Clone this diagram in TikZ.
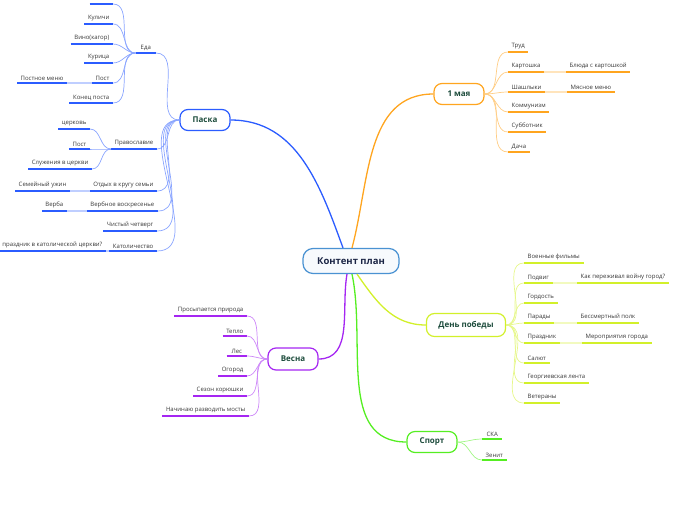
\documentclass[tikz,border=0pt]{standalone}
\usepackage{fontspec}
\setmainfont{Open Sans}
\usepackage{tikz}
\definecolor{centralC}{HTML}{4A92D2}
\definecolor{centralFill}{HTML}{F7FAFD}
\definecolor{centralText}{HTML}{1B2545}
\definecolor{topicText}{HTML}{1D4C3C}
\definecolor{leafText}{HTML}{383838}
\definecolor{paskaC}{HTML}{2B5CFF}
\definecolor{maiC}{HTML}{FFA51F}
\definecolor{pobedaC}{HTML}{D2F02A}
\definecolor{vesnaC}{HTML}{A526F2}
\definecolor{sportC}{HTML}{55EE22}

\begin{document}
\begin{tikzpicture}[x=1pt,y=-1pt,
        leaf/.style={font=\fontsize{6}{7}\selectfont, text=leafText, inner xsep=3.5pt, inner ysep=2.5pt, minimum width=20pt,
                append after command={(\tikzlastnode.south west) edge[draw=#1, line width=1.8pt] (\tikzlastnode.south east)}},
        leafL/.style={leaf=#1, anchor=south east},
        leafR/.style={leaf=#1, anchor=south west},
        topic/.style={draw=#1, line width=1.2pt, rounded corners=8pt, fill=white, text=topicText,
                font=\bfseries\fontsize{8}{9}\selectfont, minimum width=50pt, minimum height=21pt, inner xsep=12pt},
        branch/.style={draw=#1, line width=1.3pt},
        twig/.style={draw=#1!55, line width=0.7pt},
        bridge/.style={draw=#1!30, line width=1.8pt}]
        \useasboundingbox (0,0) rectangle (696,520);

        % centre and topics
        \node[draw=centralC, line width=1.2pt, rounded corners=10pt, fill=centralFill, text=centralText,
                font=\bfseries\fontsize{9.5}{11}\selectfont, minimum width=96pt, minimum height=25pt] (c) at (351,261) {Контент план};
        \node[topic=paskaC] (paska) at (205,120) {Паска};
        \node[topic=maiC] (mai) at (459,94) {1 мая};
        \node[topic=pobedaC, minimum height=23pt] (pobeda) at (466,325) {День победы};
        \node[topic=vesnaC, minimum height=22pt] (vesna) at (293,359) {Весна};
        \node[topic=sportC] (sport) at (432,442) {Спорт};

        \draw[branch=paskaC] ([xshift=-8pt]c.north) to[out=110,in=0] (paska.east);
        \draw[branch=maiC] ([xshift=1pt]c.north) to[out=75,in=180] (mai.west);
        \draw[branch=vesnaC] ([xshift=-4pt]c.south) to[out=-100,in=0] (vesna.east);
        \draw[branch=sportC] ([xshift=1pt]c.south) to[out=-78,in=180] (sport.west);
        \draw[branch=pobedaC] ([xshift=6pt]c.south) to[out=-55,in=180] (pobeda.west);

        % Паска
        \node[leafL=paskaC] (eda) at (156,53) {Еда};
        \node[leafL=paskaC, minimum width=23pt] (e0) at (113,4) {};
        \node[leafL=paskaC] (kulichi) at (113,24) {Куличи};
        \node[leafL=paskaC] (vino) at (113,44) {Вино(кагор)};
        \node[leafL=paskaC] (kurica) at (113,63) {Курица};
        \node[leafL=paskaC] (post) at (113,83) {Пост};
        \node[leafL=paskaC] (postmenu) at (67,83) {Постное меню};
        \node[leafL=paskaC] (konec) at (113,103) {Конец поста};
        \node[leafL=paskaC] (prav) at (157,149) {Православие};
        \node[leafL=paskaC] (cerkov) at (90,129) {церковь};
        \node[leafL=paskaC] (post2) at (90,149) {Пост};
        \node[leafL=paskaC] (sluzh) at (92,169) {Служения в церкви};
        \node[leafL=paskaC] (otdyh) at (157,191) {Отдых в кругу семьи};
        \node[leafL=paskaC] (uzhin) at (70,191) {Семейный ужин};
        \node[leafL=paskaC] (verbvos) at (158,211) {Вербное воскресенье};
        \node[leafL=paskaC] (verba) at (67,211) {Верба};
        \node[leafL=paskaC] (chist) at (157,231) {Чистый четверг};
        \node[leafL=paskaC] (katol) at (157,251) {Католичество};
        \node[leafL=paskaC] (katprazd) at (106,251) {праздник в католической церкви?};

        \draw[twig=paskaC] (paska.west) to[out=180,in=0] (eda.south east);
        \draw[twig=paskaC] (paska.west) to[out=180,in=0] (prav.south east);
        \draw[twig=paskaC] (paska.west) to[out=180,in=0] (otdyh.south east);
        \draw[twig=paskaC] (paska.west) to[out=180,in=0] (verbvos.south east);
        \draw[twig=paskaC] (paska.west) to[out=180,in=0] (chist.south east);
        \draw[twig=paskaC] (paska.west) to[out=180,in=0] (katol.south east);
        \draw[twig=paskaC] (eda.south west) to[out=180,in=0] (e0.south east);
        \draw[twig=paskaC] (eda.south west) to[out=180,in=0] (kulichi.south east);
        \draw[twig=paskaC] (eda.south west) to[out=180,in=0] (vino.south east);
        \draw[twig=paskaC] (eda.south west) to[out=180,in=0] (kurica.south east);
        \draw[twig=paskaC] (eda.south west) to[out=180,in=0] (post.south east);
        \draw[twig=paskaC] (eda.south west) to[out=180,in=0] (konec.south east);
        \draw[twig=paskaC] (prav.south west) to[out=180,in=0] (cerkov.south east);
        \draw[twig=paskaC] (prav.south west) to[out=180,in=0] (post2.south east);
        \draw[twig=paskaC] (prav.south west) to[out=180,in=0] (sluzh.south east);
        \draw[bridge=paskaC] (post.south west) -- (postmenu.south east);
        \draw[bridge=paskaC] (otdyh.south west) -- (uzhin.south east);
        \draw[bridge=paskaC] (verbvos.south west) -- (verba.south east);
        \draw[bridge=paskaC] (katol.south west) -- (katprazd.south east);

        % 1 мая
        \node[leafR=maiC] (trud) at (508,52) {Труд};
        \node[leafR=maiC] (kart) at (508,72) {Картошка};
        \node[leafR=maiC] (bluda) at (566,72) {Блюда с картошкой};
        \node[leafR=maiC] (shash) at (508,92) {Шашлыки};
        \node[leafR=maiC] (myaso) at (567,92) {Мясное меню};
        \node[leafR=maiC] (komm) at (508,112) {Коммунизм};
        \node[leafR=maiC] (subb) at (508,132) {Субботник};
        \node[leafR=maiC] (dacha) at (508,152) {Дача};

        \draw[twig=maiC] (mai.east) to[out=0,in=180] (trud.south west);
        \draw[twig=maiC] (mai.east) to[out=0,in=180] (kart.south west);
        \draw[twig=maiC] (mai.east) to[out=0,in=180] (shash.south west);
        \draw[twig=maiC] (mai.east) to[out=0,in=180] (komm.south west);
        \draw[twig=maiC] (mai.east) to[out=0,in=180] (subb.south west);
        \draw[twig=maiC] (mai.east) to[out=0,in=180] (dacha.south west);
        \draw[bridge=maiC] (kart.south east) -- (bluda.south west);
        \draw[bridge=maiC] (shash.south east) -- (myaso.south west);

        % День победы
        \node[leafR=pobedaC] (voen) at (524,263) {Военные фильмы};
        \node[leafR=pobedaC] (podvig) at (524,283) {Подвиг};
        \node[leafR=pobedaC] (perezh) at (577,283) {Как переживал войну город?};
        \node[leafR=pobedaC] (gord) at (524,303) {Гордость};
        \node[leafR=pobedaC] (parad) at (524,323) {Парады};
        \node[leafR=pobedaC] (polk) at (577,323) {Бессмертный полк};
        \node[leafR=pobedaC] (prazd) at (524,343) {Праздник};
        \node[leafR=pobedaC] (merop) at (582,343) {Мероприятия города};
        \node[leafR=pobedaC] (salut) at (524,363) {Салют};
        \node[leafR=pobedaC] (lenta) at (524,383) {Георгиевская лента};
        \node[leafR=pobedaC] (veter) at (524,403) {Ветераны};

        \draw[twig=pobedaC] (pobeda.east) to[out=0,in=180] (voen.south west);
        \draw[twig=pobedaC] (pobeda.east) to[out=0,in=180] (podvig.south west);
        \draw[twig=pobedaC] (pobeda.east) to[out=0,in=180] (gord.south west);
        \draw[twig=pobedaC] (pobeda.east) to[out=0,in=180] (parad.south west);
        \draw[twig=pobedaC] (pobeda.east) to[out=0,in=180] (prazd.south west);
        \draw[twig=pobedaC] (pobeda.east) to[out=0,in=180] (salut.south west);
        \draw[twig=pobedaC] (pobeda.east) to[out=0,in=180] (lenta.south west);
        \draw[twig=pobedaC] (pobeda.east) to[out=0,in=180] (veter.south west);
        \draw[bridge=pobedaC] (podvig.south east) -- (perezh.south west);
        \draw[bridge=pobedaC] (parad.south east) -- (polk.south west);
        \draw[bridge=pobedaC] (prazd.south east) -- (merop.south west);

        % Спорт
        \node[leafR=sportC] (ska) at (482,439) {СКА};
        \node[leafR=sportC] (zenit) at (482,460) {Зенит};
        \draw[twig=sportC] (sport.east) to[out=0,in=180] (ska.south west);
        \draw[twig=sportC] (sport.east) to[out=0,in=180] (zenit.south west);

        % Весна
        \node[leafL=vesnaC] (priroda) at (247,316) {Просыпается природа};
        \node[leafL=vesnaC] (teplo) at (247,336) {Тепло};
        \node[leafL=vesnaC] (les) at (247,356) {Лес};
        \node[leafL=vesnaC] (ogorod) at (247,376) {Огород};
        \node[leafL=vesnaC] (korush) at (247,396) {Сезон корюшки};
        \node[leafL=vesnaC] (mosty) at (249,416) {Начинаю разводить мосты};

        \draw[twig=vesnaC] (vesna.west) to[out=180,in=0] (priroda.south east);
        \draw[twig=vesnaC] (vesna.west) to[out=180,in=0] (teplo.south east);
        \draw[twig=vesnaC] (vesna.west) to[out=180,in=0] (les.south east);
        \draw[twig=vesnaC] (vesna.west) to[out=180,in=0] (ogorod.south east);
        \draw[twig=vesnaC] (vesna.west) to[out=180,in=0] (korush.south east);
        \draw[twig=vesnaC] (vesna.west) to[out=180,in=0] (mosty.south east);
\end{tikzpicture}
\end{document}
